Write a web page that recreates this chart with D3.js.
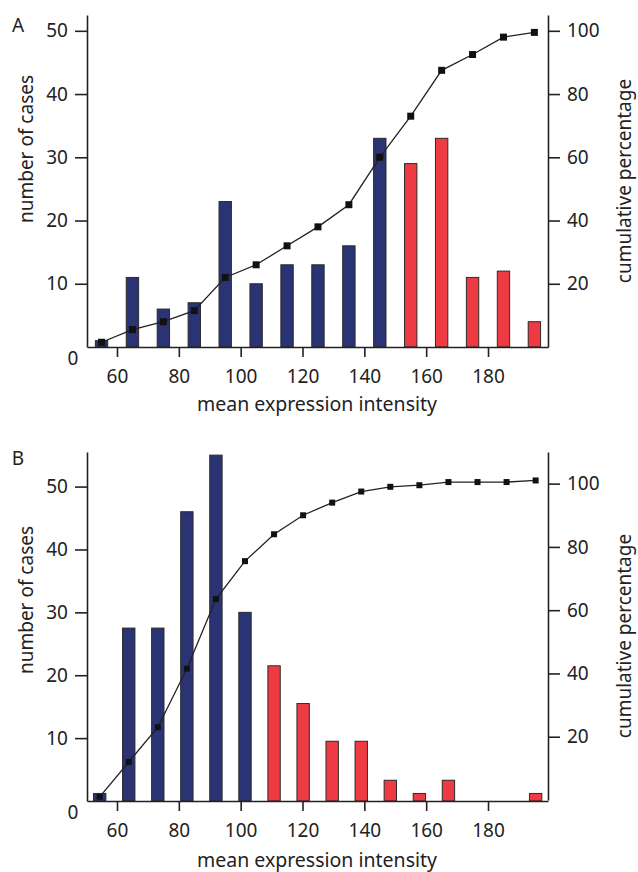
<!DOCTYPE html>
<html>
<head>
<meta charset="utf-8">
<script src="https://cdn.jsdelivr.net/npm/d3@7"></script>
<style>
  body { margin: 0; background: #fff; }
  svg text { font-family: "Noto Sans", sans-serif; fill: #222; }
</style>
</head>
<body>
<script>
// panel A - bins of mean expression intensity
var binsA = [55, 65, 75, 85, 95, 105, 115, 125, 135, 145, 155, 165, 175, 185, 195];
var countsA = [1, 11, 6, 7, 23, 10, 13, 13, 16, 33, 29, 33, 11, 12, 4];
var cumA = [1.5, 5.5, 8, 11.5, 22, 26, 32, 38, 45, 60, 73, 87.5, 92.5, 98, 99.5];
var cutA = 150; // bins above this are "high" (red)

// panel B
var binsB = [54.4, 63.8, 73.2, 82.6, 92, 101.4, 110.8, 120.2, 129.6, 139, 148.4, 157.8, 167.2, 176.6, 186, 195.4];
var countsB = [1.2, 27.5, 27.5, 46, 55, 30, 21.5, 15.5, 9.5, 9.5, 3.3, 1.2, 3.3, 0, 0, 1.2];
var cumB = [1, 12, 23, 41.5, 63.5, 75.5, 84, 90, 94, 97.5, 99, 99.5, 100.5, 100.5, 100.5, 101];
var cutB = 106;

var xTicks = [60, 80, 100, 120, 140, 160, 180];
var leftTicks = [10, 20, 30, 40, 50];
var rightTicks = [20, 40, 60, 80, 100];

var width = 638, height = 872;
var fs = 19;
var svg = d3.select("body").append("svg")
  .attr("width", width)
  .attr("height", height);

var x = d3.scaleLinear().domain([50.3, 199.4]).range([87, 548]);

function drawPanel(p) {
  var g = svg.append("g");
  var yL = d3.scaleLinear().domain(p.leftDomain).range([p.base, p.top]);
  var yR = d3.scaleLinear().domain(p.rightDomain).range([p.baseR, p.top]);
  var bw = x(p.bins[0] + 2) - x(p.bins[0] - 2);

  var data = p.bins.map(function(b, i) {
    return {bin: b, count: p.counts[i], cum: p.cum[i]};
  });

  // bars
  g.selectAll("rect.bar").data(data.filter(function(d) { return d.count > 0; }))
    .enter().append("rect")
    .attr("class", "bar")
    .attr("x", function(d) { return x(d.bin) - bw / 2; })
    .attr("y", function(d) { return yL(d.count); })
    .attr("width", bw)
    .attr("height", function(d) { return yL(0) - yL(d.count); })
    .attr("fill", function(d) { return d.bin > p.cut ? "#ee3b43" : "#2a3374"; })
    .attr("stroke", "#2b2b2b")
    .attr("stroke-width", 1);

  // cumulative line
  var line = d3.line()
    .x(function(d) { return x(d.bin); })
    .y(function(d) { return yR(d.cum); });
  g.append("path").datum(data)
    .attr("d", line)
    .attr("fill", "none")
    .attr("stroke", "#222")
    .attr("stroke-width", 1.3);
  g.selectAll("rect.pt").data(data).enter().append("rect")
    .attr("class", "pt")
    .attr("x", function(d) { return x(d.bin) - p.ms / 2; })
    .attr("y", function(d) { return yR(d.cum) - p.ms / 2; })
    .attr("width", p.ms).attr("height", p.ms)
    .attr("fill", "#111");

  // axes
  var ax = g.append("g").attr("transform", "translate(0," + p.base + ")")
    .call(d3.axisBottom(x).tickValues(xTicks).tickSize(10).tickSizeOuter(0).tickPadding(13));
  var al = g.append("g").attr("transform", "translate(87,0)")
    .call(d3.axisLeft(yL).tickValues(leftTicks).tickSize(12).tickSizeOuter(0).tickPadding(7));
  var ar = g.append("g").attr("transform", "translate(548,0)")
    .call(d3.axisRight(yR).tickValues(rightTicks).tickSize(12).tickSizeOuter(0).tickPadding(7));
  [ax, al, ar].forEach(function(a) {
    a.selectAll("path, line").attr("stroke", "#222").attr("stroke-width", 1.6);
    a.selectAll("text").attr("font-size", fs).attr("font-family", "Noto Sans, sans-serif").attr("fill", "#222");
  });

  g.append("text").attr("x", 73).attr("y", p.base + 18)
    .attr("text-anchor", "middle").attr("font-size", fs).text("0");

  g.append("text").attr("x", 317).attr("y", p.titleY)
    .attr("text-anchor", "middle").attr("font-size", 19.5)
    .text("mean expression intensity");
  g.append("text")
    .attr("transform", "translate(33," + p.leftTitleY + ") rotate(-90)")
    .attr("text-anchor", "middle").attr("font-size", fs)
    .text("number of cases");
  g.append("text")
    .attr("transform", "translate(631," + p.rightTitleY + ") rotate(-90)")
    .attr("text-anchor", "middle").attr("font-size", fs)
    .text("cumulative percentage");
  g.append("text").attr("x", 18).attr("y", p.labelY)
    .attr("text-anchor", "middle").attr("font-size", 19)
    .text(p.label);
}

drawPanel({
  label: "A", bins: binsA, counts: countsA, cum: cumA, cut: cutA,
  leftDomain: [0, 52.5], rightDomain: [0, 105],
  base: 347, baseR: 347, top: 15, ms: 7,
  titleY: 411, leftTitleY: 149, rightTitleY: 181, labelY: 32
});

drawPanel({
  label: "B", bins: binsB, counts: countsB, cum: cumB, cut: cutB,
  leftDomain: [0, 55.5], rightDomain: [0, 110],
  base: 801, baseR: 800, top: 452, ms: 6,
  titleY: 867, leftTitleY: 600, rightTitleY: 636, labelY: 465
});
</script>
</body>
</html>
